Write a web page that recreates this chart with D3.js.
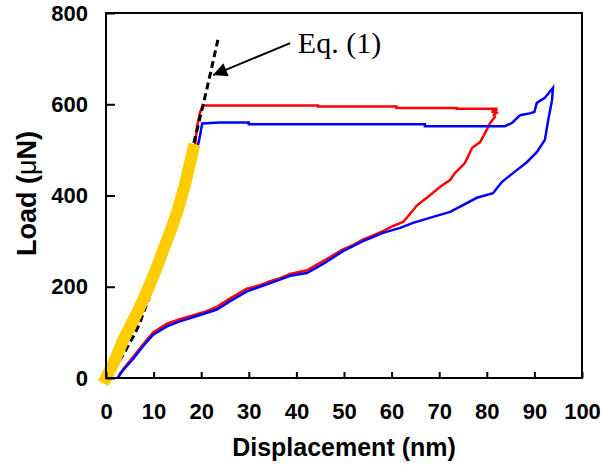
<!doctype html>
<html lang="en">
<head>
  <meta charset="utf-8">
  <title>Load vs Displacement</title>
  <script src="https://d3js.org/d3.v7.min.js" charset="utf-8"></script>
</head>
<body style="margin:0;background:#fff">
<style>
.chart text {
  font-family: "Liberation Sans", Arial, sans-serif;
  font-weight: bold;
  fill: black;
}
</style>
<svg class="chart"></svg>
<script>
// axis ticks
var xTicks = [0, 10, 20, 30, 40, 50, 60, 70, 80, 90, 100];
var yTicks = [0, 200, 400, 600, 800];

// yellow loading points (nm, uN)
var yellowD = [0, 1, 2, 3.6, 5, 6.5, 7.8, 9, 10.7, 12, 13.4, 15, 16.5, 18.3];
var yellowL = [0, 20, 42, 83, 112, 142, 171, 200, 243, 280, 318, 365, 420, 500];

// Eq. (1) dashed curve
var eqD = [0, 3, 6, 7, 9, 12, 15, 18, 19.3, 21, 22.5, 23.5];
var eqL = [0, 40, 96, 118, 175, 270, 380, 497, 551, 625, 694, 741];

// red test
var redD = [0.6, 3, 6, 9, 12, 15, 17.5, 18.7, 19.1, 19.7, 20.2, 20.5, 44.5, 44.5, 61, 61, 73.7, 73.7, 82,
  82, 81, 82, 81.5, 81.7, 80.7, 80, 78.6, 76.9, 75.4, 73.3, 72.3, 70.2, 68, 66.5, 65.3, 63.5, 62.4, 60,
  58.2, 56, 54, 52, 49.8, 47.5, 45.6, 42.2, 38.7, 36.6, 34.5, 32, 29.6, 26, 23.3, 21, 19.1, 15.5, 12.8,
  9.9, 7.8, 5.7, 3.6, 2.5];
var redL = [0, 62, 132, 202, 282, 368, 462, 506, 550, 580, 594, 597, 597, 595, 595, 592, 592, 590, 590,
  586, 584, 581, 577, 572, 559, 544, 517, 504, 471, 449, 434, 419, 400, 388, 378, 355, 342, 332,
  322, 312, 304, 292, 282, 268, 256, 236, 228, 219, 212, 202, 196, 174, 156, 146, 140, 129, 119,
  100, 74, 46, 19, 0];

// blue test
var blueD = [0.6, 3, 6, 9, 12, 15, 17.5, 19.1, 19.7, 20.2, 24, 30, 30, 67, 67, 83.8,
  85.3, 87, 89, 90, 90.5, 92.2, 93.9, 93.7, 92.9, 92.2, 90.5, 88.4, 85.5, 83.2, 81.3, 77.9, 75, 72.3,
  68, 64.5, 61.8, 58.2, 54, 49.8, 45.6, 42.2, 38.7, 34.5, 29.6, 26, 23.3, 19.1, 15.5, 12.8, 9.9, 7.8,
  5.7, 4, 3, 2.5];
var blueL = [0, 60, 128, 198, 278, 362, 455, 500, 528, 558, 560, 560, 556, 556, 552, 552,
  559, 576, 580, 583, 603, 614, 636, 609, 565, 522, 495, 473, 449, 430, 405, 395, 379, 364,
  351, 340, 329, 318, 300, 278, 250, 230, 224, 208, 190, 168, 150, 136, 124, 113, 95, 70,
  42, 22, 10, 0];

var width = 603, height = 470;
var svg = d3.select(".chart").attr("width", width).attr("height", height);

var x = d3.scaleLinear().domain([0, 100]).range([106, 582]);
var y = d3.scaleLinear().domain([0, 800]).range([378, 13]);

function pts(ds, ls) { return ds.map(function(d, i) { return [d, ls[i]]; }); }
var line = d3.line().x(function(p) { return x(p[0]); }).y(function(p) { return y(p[1]); });

var plot = svg.append("g");

plot.append("path").datum(pts(redD, redL))
  .attr("d", line).attr("fill", "none").attr("stroke", "#ff0000")
  .attr("stroke-width", 2.5).attr("stroke-linejoin", "miter");

plot.append("path").datum(pts(blueD, blueL))
  .attr("d", line).attr("fill", "none").attr("stroke", "#0000ff")
  .attr("stroke-width", 2.5).attr("stroke-linejoin", "miter");

plot.append("path").datum(pts(eqD, eqL))
  .attr("d", line).attr("fill", "none").attr("stroke", "#000")
  .attr("stroke-width", 3).attr("stroke-dasharray", "7,4");

plot.append("path").datum(pts(yellowD, yellowL))
  .attr("d", line).attr("fill", "none").attr("stroke", "#ffcc00")
  .attr("stroke-width", 12).attr("stroke-linecap", "square");

// frame
svg.append("rect")
  .attr("x", x(0)).attr("y", y(800))
  .attr("width", x(100) - x(0)).attr("height", y(0) - y(800))
  .attr("fill", "none").attr("stroke", "#000").attr("stroke-width", 2);

var xAxis = svg.append("g").attr("transform", "translate(0," + y(0) + ")")
  .call(d3.axisBottom(x).tickValues(xTicks).tickSizeInner(-6).tickSizeOuter(0).tickPadding(25));
var yAxis = svg.append("g").attr("transform", "translate(" + x(0) + ",0)")
  .call(d3.axisLeft(y).tickValues(yTicks).tickSizeInner(-9).tickSizeOuter(0).tickPadding(18));

[xAxis, yAxis].forEach(function(a) {
  a.select(".domain").remove();
  a.selectAll(".tick line").attr("stroke", "#000").attr("stroke-width", 2);
  a.selectAll(".tick text").style("font-size", "22px")
    .style("font-family", "'Liberation Sans', Arial, sans-serif").style("font-weight", "bold");
});

svg.append("text")
  .attr("x", (x(0) + x(100)) / 2).attr("y", 456)
  .attr("text-anchor", "middle").style("font-size", "25px")
  .text("Displacement (nm)");

var yt = svg.append("text")
  .attr("transform", "translate(36," + ((y(0) + y(800)) / 2 - 2) + ") rotate(-90)")
  .attr("text-anchor", "middle").style("font-size", "27px");
yt.append("tspan").text("Load (");
yt.append("tspan").style("font-weight", "normal").text("\u03bc");
yt.append("tspan").text("N)");

// annotation
svg.append("defs").append("marker")
  .attr("id", "arr").attr("viewBox", "0 0 10 10").attr("refX", 10).attr("refY", 5)
  .attr("markerWidth", 9).attr("markerHeight", 7).attr("markerUnits", "strokeWidth")
  .attr("orient", "auto")
  .append("path").attr("d", "M0,0 L10,5 L0,10 z").attr("fill", "#000");

svg.append("line")
  .attr("x1", x(38.7)).attr("y1", y(734))
  .attr("x2", x(22.5)).attr("y2", y(664))
  .attr("stroke", "#000").attr("stroke-width", 2)
  .attr("marker-end", "url(#arr)");

svg.append("text")
  .attr("x", x(40.3)).attr("y", y(713))
  .style("font-family", "'Liberation Serif', 'Times New Roman', serif")
  .style("font-weight", "normal").style("font-size", "30px")
  .text("Eq. (1)");
</script>
</body>
</html>
